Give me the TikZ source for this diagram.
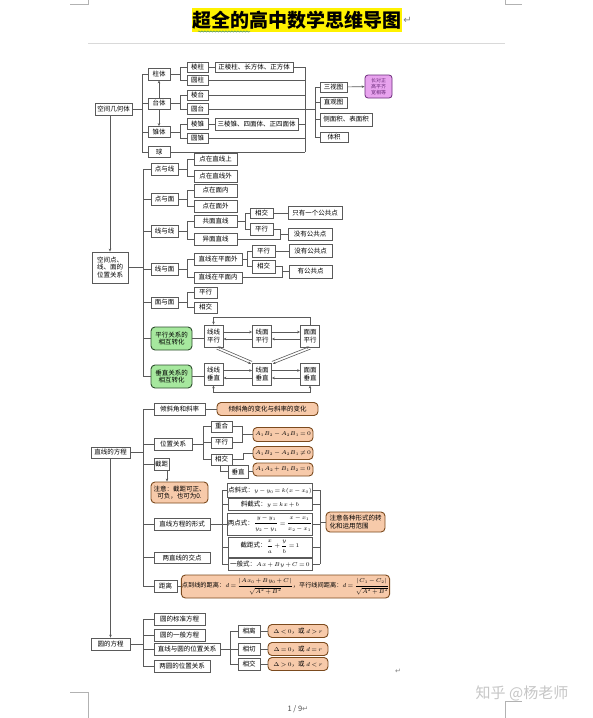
\RequirePackage{fix-cm}
\documentclass[tikz,border=0pt]{standalone}
\usepackage{amsmath}
\usepackage{fontspec}
\setmainfont{Noto Sans CJK SC}
\newfontfamily\dejavu{DejaVu Sans}
\usetikzlibrary{arrows.meta,calc,decorations.pathmorphing}
\definecolor{boxc}{HTML}{5A5A5A}
\definecolor{lnc}{HTML}{5A5A5A}
\definecolor{obf}{HTML}{F7CAAA}
\definecolor{obd}{HTML}{7B4A1E}
\definecolor{gbf}{HTML}{A6E89E}
\definecolor{gbd}{HTML}{2E4E2E}
\definecolor{pkf}{HTML}{E8A3EE}
\definecolor{pkd}{HTML}{6A2A7A}
\definecolor{wavyc}{HTML}{3C8C78}
\newcommand\fs{\fontsize{6.5}{7.6}\selectfont}
\newcommand\mth[1]{{\fontsize{5.6}{6.4}\selectfont\medmuskip=2mu\thickmuskip=2.5mu$#1$}}
\begin{document}
\begin{tikzpicture}[x=1pt,y=-1pt,
  bx/.style={draw=boxc,line width=0.7pt,fill=white,inner sep=0.5pt,font=\fs,align=center},
  sz/.style 2 args={minimum width=#1,minimum height=#2},
  ob/.style={draw=obd,fill=obf,line width=0.9pt,rounded corners=4pt,inner sep=0.5pt,font=\fs,align=center},
  gb/.style={draw=gbd,fill=gbf,line width=0.9pt,rounded corners=4pt,inner sep=0.5pt,font=\fs,align=center},
  pk/.style={draw=pkd,fill=pkf,line width=0.8pt,rounded corners=3pt,inner sep=0.5pt,font=\fontsize{5}{6.2}\selectfont,text=pkd,align=center},
  ln/.style={draw=lnc,line width=0.6pt},
  ar/.style={ln,-{Stealth[length=3pt,width=2.5pt]}},
  arr/.style={ln,{Stealth[length=3pt,width=2.5pt]}-{Stealth[length=3pt,width=2.5pt]}},
  pgmark/.style={draw=gray!60,line width=0.5pt}
]
\useasboundingbox[fill=white] (0,0) rectangle (593,718);

% page furniture
\draw[pgmark] (70,4) -- (88,4) -- (88,0);
\draw[pgmark] (505,0) -- (505,4) -- (522,4);
\draw[pgmark] (70,692) -- (88,692) -- (88,718);
\draw[pgmark] (505,718) -- (505,701) -- (522,701);
\draw[draw=gray!30,line width=0.8pt] (88,43) -- (505,43);

% title
\node[fill=yellow,inner sep=0.5pt,minimum height=24,font=\fontsize{19}{22}\selectfont\bfseries] (title) at (297,20) {超全的高中数学思维导图};
\node[anchor=west,inner sep=0pt,text=gray,font=\dejavu\fontsize{10}{12}\selectfont] (pm1) at ([xshift=1pt]title.east) {↵};
\draw[decorate,decoration={snake,amplitude=0.6pt,segment length=3pt},draw=wavyc,line width=0.5pt] (198,31.5) -- (250,31.5);

% ---------- 空间几何体 ----------
\node[bx,sz={37}{12}] (g0) at (113.5,109) {空间几何体};
\node[bx,sz={22}{12}] (zt) at (159,74) {柱体};
\node[bx,sz={22}{11}] (tt) at (159,103.5) {台体};
\node[bx,sz={22}{11}] (zhui) at (159,132) {锥体};
\node[bx,sz={22}{11}] (qiu) at (159,152) {球};
\node[bx,sz={21}{10}] (lz) at (197.5,67) {棱柱};
\node[bx,sz={21}{10}] (yz) at (197.5,80) {圆柱};
\node[bx,sz={21}{10}] (lt) at (197.5,95) {棱台};
\node[bx,sz={21}{11}] (yt) at (197.5,109) {圆台};
\node[bx,sz={21}{11}] (lzh) at (197.5,124) {棱锥};
\node[bx,sz={21}{10}] (yzh) at (197.5,138) {圆锥};
\node[bx,sz={78}{10}] (zlz) at (254,67) {正棱柱、长方体、正方体};
\node[bx,sz={83}{12}] (slz) at (256.5,124) {三棱锥、四面体、正四面体};
\node[bx,sz={27}{10}] (sst) at (333.5,87) {三视图};
\node[bx,sz={27}{11}] (zgt) at (333.5,102.5) {直观图};
\node[bx,sz={52}{13}] (cmj) at (346,119.5) {侧面积、表面积};
\node[bx,sz={28}{10}] (tj) at (334,137) {体积};
\node[pk,sz={27}{23}] (pink) at (378.5,86.5) {长对正\\高平齐\\宽相等};

\coordinate (B1) at (142,0);
\coordinate (B1a) at (180,0);
\coordinate (B1r) at (305,0);
\coordinate (B1s) at (315,0);
\draw[ln] (g0.east) -- (g0.east -| B1);
\draw[ln] (zt.west -| B1) -- (qiu.west -| B1);
\foreach \n in {zt,tt,zhui,qiu} \draw[ln] (\n.west) -- (\n.west -| B1);
\foreach \p/\a/\b in {zt/lz/yz,tt/lt/yt,zhui/lzh/yzh} {
  \draw[ln] (\p.east) -- (\p.east -| B1a);
  \draw[ln] (\a.west) -| (\b.west -| B1a) -- (\b.west);
}
\foreach \a/\b in {lz/zlz,lzh/slz} \draw[ln] (\a.east) -- (\b.west);
\foreach \n in {zlz,yz,lt,yt,slz,yzh,qiu} \draw[ln] (\n.east) -- (\n.east -| B1r);
\draw[ln] (zlz.east -| B1r) -- (qiu.east -| B1r);
\draw[ln] (yt.east -| B1r) -- (yt.east -| B1s);
\draw[ln] (sst.west -| B1s) -- (tj.west -| B1s);
\foreach \n in {sst,zgt,cmj,tj} \draw[ln] (\n.west) -- (\n.west -| B1s);
\draw[ar] (sst) -- (pink);
\draw[ar] (tt) -- (zt);
\draw[ar] (tt) -- (zhui);

% ---------- 空间点、线、面的位置关系 ----------
\node[bx,sz={36}{31}] (p0) at (110,267.5) {空间点、\\线、面的\\位置关系};
\draw[ar] (g0.south -| p0.north) -- (p0.north);

\node[bx,sz={27}{12}] (dyx) at (164.5,169) {点与线};
\node[bx,sz={43}{12}] (dzx1) at (215.5,159) {点在直线上};
\node[bx,sz={43}{12}] (dzx2) at (215.5,176) {点在直线外};
\node[bx,sz={27}{12}] (dyy) at (164.5,199) {点与面};
\node[bx,sz={43}{13}] (dzy1) at (215.5,190.5) {点在面内};
\node[bx,sz={43}{12}] (dzy2) at (215.5,206) {点在面外};
\node[bx,sz={27}{12}] (xyx) at (164.5,231) {线与线};
\node[bx,sz={43}{12}] (gm) at (215.5,221) {共面直线};
\node[bx,sz={43}{12}] (ym) at (215.5,239) {异面直线};
\node[bx,sz={23}{10}] (xj1) at (261.5,213) {相交};
\node[bx,sz={23}{12}] (px1) at (261.5,229) {平行};
\node[bx,sz={54}{13}] (yg1) at (315,213) {只有一个公共点};
\node[bx,sz={44}{12}] (mg1) at (310,234) {没有公共点};
\node[bx,sz={27}{12}] (xym) at (164.5,269) {线与面};
\node[bx,sz={48}{12}] (zw) at (218,259) {直线在平面外};
\node[bx,sz={48}{11}] (zn) at (218,277.5) {直线在平面内};
\node[bx,sz={23}{12}] (px2) at (263.5,251) {平行};
\node[bx,sz={23}{13}] (xj2) at (263.5,266.5) {相交};
\node[bx,sz={43}{13}] (mg2) at (310.5,251) {没有公共点};
\node[bx,sz={43}{13}] (yg2) at (310.5,271.5) {有公共点};
\node[bx,sz={27}{11}] (mym) at (164.5,302.5) {面与面};
\node[bx,sz={23}{11}] (px3) at (205.5,292.5) {平行};
\node[bx,sz={23}{11}] (xj3) at (205.5,307.5) {相交};
\node[gb,sz={41}{23}] (pxz) at (171.5,338.5) {平行关系的\\相互转化};
\node[gb,sz={41}{23}] (czz) at (171.5,376.5) {垂直关系的\\相互转化};
\node[bx,sz={19}{22}] (llp) at (213.5,336) {线线\\平行};
\node[bx,sz={19}{22}] (lmp) at (262,336) {线面\\平行};
\node[bx,sz={19}{22}] (mmp) at (310,336) {面面\\平行};
\node[bx,sz={19}{22}] (llc) at (213.5,374) {线线\\垂直};
\node[bx,sz={19}{22}] (lmc) at (262,374) {线面\\垂直};
\node[bx,sz={19}{22}] (mmc) at (310,374) {面面\\垂直};

\coordinate (B2) at (143,0);
\coordinate (B2a) at (187,0);
\coordinate (B2b) at (245,0);
\coordinate (B2c) at (280,0);
\coordinate (B2d) at (247,0);
\coordinate (B2e) at (282,0);
\draw[ln] (p0.east) -- (p0.east -| B2);
\draw[ln] (dyx.west -| B2) -- (czz.west -| B2);
\foreach \n in {dyx,dyy,xyx,xym,mym,pxz,czz} \draw[ln] (\n.west) -- (\n.west -| B2);
\foreach \p/\a/\b in {dyx/dzx1/dzx2,dyy/dzy1/dzy2,xyx/gm/ym,xym/zw/zn,mym/px3/xj3} {
  \draw[ln] (\p.east) -- (\p.east -| B2a);
  \draw[ln] (\a.west) -| (\b.west -| B2a) -- (\b.west);
}
\draw[ln] (gm.east) -- (gm.east -| B2b);
\draw[ln] (xj1.west) -| (px1.west -| B2b) -- (px1.west);
\draw[ln] (xj1.east) -- (xj1.east -| yg1.west);
\draw[ln] (px1.east) -| (ym.east -| B2c) -- (ym.east);
\draw[ln] (mg1.west) -- (mg1.west -| B2c);
\draw[ln] (zw.east) -- (zw.east -| B2d);
\draw[ln] (px2.west) -| (xj2.west -| B2d) -- (xj2.west);
\draw[ln] (px2.east) -- (px2.east -| mg2.west);
\draw[ln] (xj2.east) -| (zn.east -| B2e) -- (zn.east);
\draw[ln] (yg2.west) -- (yg2.west -| B2e);
\draw[ln] (pxz.east) -- (pxz.east -| llp.west);
\draw[ln] (czz.east) -- (czz.east -| llc.west);
% transformation arrows
\draw[ar] ($(llp.east)+(0,-4)$) -- ($(lmp.west)+(0,-4)$);
\draw[ar] ($(lmp.west)+(0,3)$) -- ($(llp.east)+(0,3)$);
\draw[ar] ($(lmp.east)+(0,-4)$) -- ($(mmp.west)+(0,-4)$);
\draw[ar] ($(mmp.west)+(0,3)$) -- ($(lmp.east)+(0,3)$);
\draw[ar] ($(llc.east)+(0,-3.5)$) -- ($(lmc.west)+(0,-3.5)$);
\draw[ar] ($(lmc.west)+(0,4)$) -- ($(llc.east)+(0,4)$);
\draw[ar] ($(lmc.east)+(0,-3.5)$) -- ($(mmc.west)+(0,-3.5)$);
\draw[ar] ($(mmc.west)+(0,4)$) -- ($(lmc.east)+(0,4)$);
\draw[ar] (mmp.north) -- ++(0,-7) -| (llp.north);
\draw[arr] (llc.south) -- ++(0,7) -| (mmc.south);
\draw[ar] ($(llp.south)+(3,1.7)$) -- ($(lmc.north west)+(-1,1.2)$);
\draw[ar] ($(lmc.north west)+(0,-1.2)$) -- ($(llp.south)+(4,-0.7)$);
\draw[ar] ($(mmp.south)+(0.5,1.7)$) -- ($(lmc.north east)+(1,1.2)$);
\draw[ar] ($(lmc.north east)+(0,-1.2)$) -- ($(mmp.south)+(-0.5,-0.7)$);

% ---------- 直线的方程 ----------
\node[bx,sz={39}{11}] (l0) at (110.5,452.5) {直线的方程};
\node[bx,sz={51}{12}] (qxj) at (179.5,409) {倾斜角和斜率};
\node[ob,sz={101}{13}] (qxb) at (267.5,409) {倾斜角的变化与斜率的变化};
\node[bx,sz={38}{12}] (wz) at (173,444) {位置关系};
\node[bx,sz={21}{11}] (ch) at (221.5,426.5) {重合};
\node[bx,sz={21}{11}] (px4) at (221.5,442.5) {平行};
\node[bx,sz={21}{11}] (xj4) at (221.5,459.5) {相交};
\node[bx,sz={20}{13}] (cz) at (238,471.5) {垂直};
\node[ob,sz={60}{14}] (o1) at (283,434.5) {\mth{A_1B_2-A_2B_1=0}};
\node[ob,sz={60}{13}] (o2) at (283,453) {\mth{A_1B_2-A_2B_1\neq0}};
\node[ob,sz={60}{13}] (o3) at (283,469.5) {\mth{A_1A_2+B_1B_2=0}};
\node[bx,sz={15}{12}] (jj) at (161.5,464) {截距};
\node[ob,sz={57}{21}] (zy) at (179.5,492.5) {注意：截距可正、\\可负，也可为0.};
\node[bx,sz={56}{12}] (xs) at (182,524) {直线方程的形式};
\node[bx,sz={84}{14}] (f1) at (270,490) {点斜式：\mth{y-y_0=k(x-x_0)}};
\node[bx,sz={84}{12}] (f2) at (270,504) {斜截式：\mth{y=kx+b}};
\node[bx,sz={84}{22}] (f3) at (270,524) {两点式：\mth{\dfrac{y-y_1}{y_2-y_1}=\dfrac{x-x_1}{x_2-x_1}}};
\node[bx,sz={84}{20}] (f4) at (270,547) {截距式：\mth{\dfrac{x}{a}+\dfrac{y}{b}=1}};
\node[bx,sz={84}{12}] (f5) at (270,564) {一般式：\mth{Ax+By+C=0}};
\node[ob,sz={59}{20},align=left] (zyx) at (355.5,522) {注意各种形式的转\\化和运用范围};
\node[bx,sz={56}{11}] (jd) at (182,557.5) {两直线的交点};
\node[bx,sz={23}{12}] (jl) at (165.5,586) {距离};
\node[ob,sz={199}{23},font=\fontsize{6.2}{7}\selectfont] (jlf) at (285.5,586.5) {点到线的距离：\mth{d=\dfrac{|Ax_0+By_0+C|}{\sqrt{A^2+B^2}}}，平行线间距离：\mth{d=\dfrac{|C_1-C_2|}{\sqrt{A^2+B^2}}}};

\coordinate (B3a) at (203,0);
\coordinate (B3b) at (242,0);
\coordinate (B3c) at (243,0);
\coordinate (B3d) at (222,0);
\coordinate (B3e) at (320,0);
\draw[ln] (l0.east) -- (l0.east -| B2);
\draw[ln] (qxj.west -| B2) -- (jl.west -| B2);
\foreach \n in {qxj,wz,jj,xs,jd,jl} \draw[ln] (\n.west) -- (\n.west -| B2);
\draw[ln] (qxj.east) -- (qxb.west);
\draw[ln] (wz.east) -- (wz.east -| B3a);
\draw[ln] (ch.west -| B3a) -- (xj4.west -| B3a);
\foreach \n in {ch,px4,xj4} \draw[ln] (\n.west) -- (\n.west -| B3a);
\draw[ln] (ch.east) -| (px4.east -| B3b) -- (px4.east);
\coordinate (m1) at ($(ch.east)!0.5!(px4.east)$);
\draw[ln] (m1 -| B3b) -- (m1 -| o1.west);
\draw[ln] (xj4.east) -| (o2.west -| B3c) -- (o2.west);
\coordinate (xja) at ($(xj4.south)+(-1.5,0)$);
\draw[ln] (xja) |- (cz.west);
\draw[ln] (cz.east) -- (cz.east -| o3.west);
\coordinate (jja) at ($(jj.south)+(5.5,0)$);
\draw[ar] (jja) -- (jja |- zy.north);
\draw[ln] (xs.east) -- (xs.east -| B3d);
\draw[ln] (f1.west -| B3d) -- (f5.west -| B3d);
\foreach \n in {f1,f2,f3,f4,f5} {
  \draw[ln] (\n.west) -- (\n.west -| B3d);
  \draw[ln] (\n.east) -- (\n.east -| B3e);
}
\draw[ln] (f1.east -| B3e) -- (f5.east -| B3e);
\draw[ln] (zyx.west -| B3e) -- (zyx.west);
\draw[ln] (jl.east) -- (jl.east -| jlf.west);

% ---------- 圆的方程 ----------
\node[bx,sz={39}{12}] (c0) at (110.5,644) {圆的方程};
\draw[ar] (l0.south) -- (c0.north);
\node[bx,sz={51}{12}] (c1) at (179.5,619) {圆的标准方程};
\node[bx,sz={51}{12}] (c2) at (179.5,635) {圆的一般方程};
\node[bx,sz={66}{12}] (c3) at (187,649) {直线与圆的位置关系};
\node[bx,sz={56}{12}] (c4) at (182,666) {两圆的位置关系};
\node[bx,sz={22}{12}] (xl) at (249,631) {相离};
\node[bx,sz={22}{12}] (xq) at (249,649) {相切};
\node[bx,sz={22}{12}] (xj5) at (249,664) {相交};
\node[ob,sz={60}{13}] (d1) at (298,631) {\mth{\Delta<0}，或 \mth{d>r}};
\node[ob,sz={60}{13}] (d2) at (298,649) {\mth{\Delta=0}，或 \mth{d=r}};
\node[ob,sz={60}{13}] (d3) at (298,664) {\mth{\Delta>0}，或 \mth{d<r}};
\coordinate (B4a) at (230,0);
\draw[ln] (c0.east) -- (c0.east -| B2);
\draw[ln] (c1.west -| B2) -- (c4.west -| B2);
\foreach \n in {c1,c2,c3,c4} \draw[ln] (\n.west) -- (\n.west -| B2);
\draw[ln] (c3.east) -- (c3.east -| B4a);
\draw[ln] (xl.west -| B4a) -- (xj5.west -| B4a);
\foreach \n in {xl,xq,xj5} \draw[ln] (\n.west) -- (\n.west -| B4a);
\foreach \a/\b in {xl/d1,xq/d2,xj5/d3} \draw[ln] (\a.east) -- (\b.west);

% page marks and watermark
\node[inner sep=0pt,text=gray,font=\dejavu\fontsize{7}{8}\selectfont] (pm2) at (398,671) {↵};
\node[inner sep=0pt,text=black!70,font=\fontsize{7.5}{9}\selectfont] (pg) at (298,709) {1 / 9{\dejavu\color{gray}↵}};
\node[inner sep=0pt,text=gray!45,font=\fontsize{15}{17}\selectfont] (wm) at (522,693) {知乎 @杨老师};
\end{tikzpicture}
\end{document}
